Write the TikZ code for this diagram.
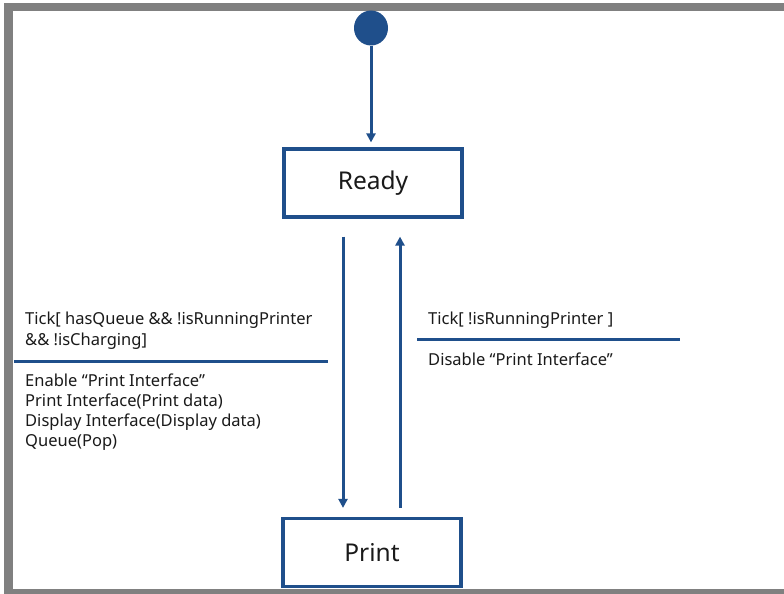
\documentclass[tikz,border=0pt]{standalone}
\usepackage{fontspec}
\setmainfont{Noto Sans}
\usetikzlibrary{arrows.meta,shapes.geometric}
\definecolor{umlblue}{HTML}{1F4F8B}
\definecolor{framegray}{HTML}{808080}
\definecolor{txt}{HTML}{1A1A1A}
\begin{document}
\begin{tikzpicture}[x=1pt,y=-1pt,
  statebox/.style={draw=umlblue,line width=3.2pt,minimum width=178pt,minimum height=68pt,inner sep=0pt,font=\fontsize{24.5}{28}\selectfont,text=txt},
  trans/.style={draw=umlblue,line width=3pt,-{Triangle[length=9pt,width=9pt]}},
  sep/.style={draw=umlblue,line width=3pt},
  lbl/.style={anchor=base west,inner sep=0pt,font=\fontsize{16.5}{19}\selectfont,text=txt}]
\useasboundingbox (0,0) rectangle (784,594);
\fill[white] (0,0) rectangle (784,594);
% frame
\fill[framegray] (4,3) rectangle (784,11);
\fill[framegray] (4,3) rectangle (13,594);
\fill[framegray] (4,589) rectangle (784,594);
% nodes
\node[ellipse,fill=umlblue,minimum width=34pt,minimum height=35pt,inner sep=0pt] (init) at (371,28) {};
\node[statebox] (ready) at (373,183) {Ready};
\node[statebox] (print) at (372,552.5) {Print};
% transitions
\draw[trans,shorten >=5pt] (init.south) -- (init.south |- ready.north);
\draw[trans,shorten <=18pt,shorten >=9pt] ([xshift=-30pt]ready.south) -- ([xshift=-29pt]print.north);
\draw[trans,shorten <=9pt,shorten >=18pt] ([xshift=28pt]print.north) -- ([xshift=27pt]ready.south);
% left label
\node[lbl] (l1) at (25,324) {Tick[ hasQueue \&\& !isRunningPrinter};
\node[lbl] (l2) at (25,345) {\&\& !isCharging]};
\coordinate (ls1) at (14,361);
\coordinate (ls2) at (328,361);
\draw[sep] (ls1) -- (ls2);
\node[lbl] (l3) at (25,386) {Enable “Print Interface”};
\node[lbl] (l4) at (25,406) {Print Interface(Print data)};
\node[lbl] (l5) at (25,426) {Display Interface(Display data)};
\node[lbl] (l6) at (25,446) {Queue(Pop)};
% right label
\node[lbl] (r1) at (428,324) {Tick[ !isRunningPrinter ]};
\coordinate (rs1) at (417,339);
\coordinate (rs2) at (680,339);
\draw[sep] (rs1) -- (rs2);
\node[lbl] (r2) at (428,365) {Disable “Print Interface”};
\end{tikzpicture}
\end{document}
